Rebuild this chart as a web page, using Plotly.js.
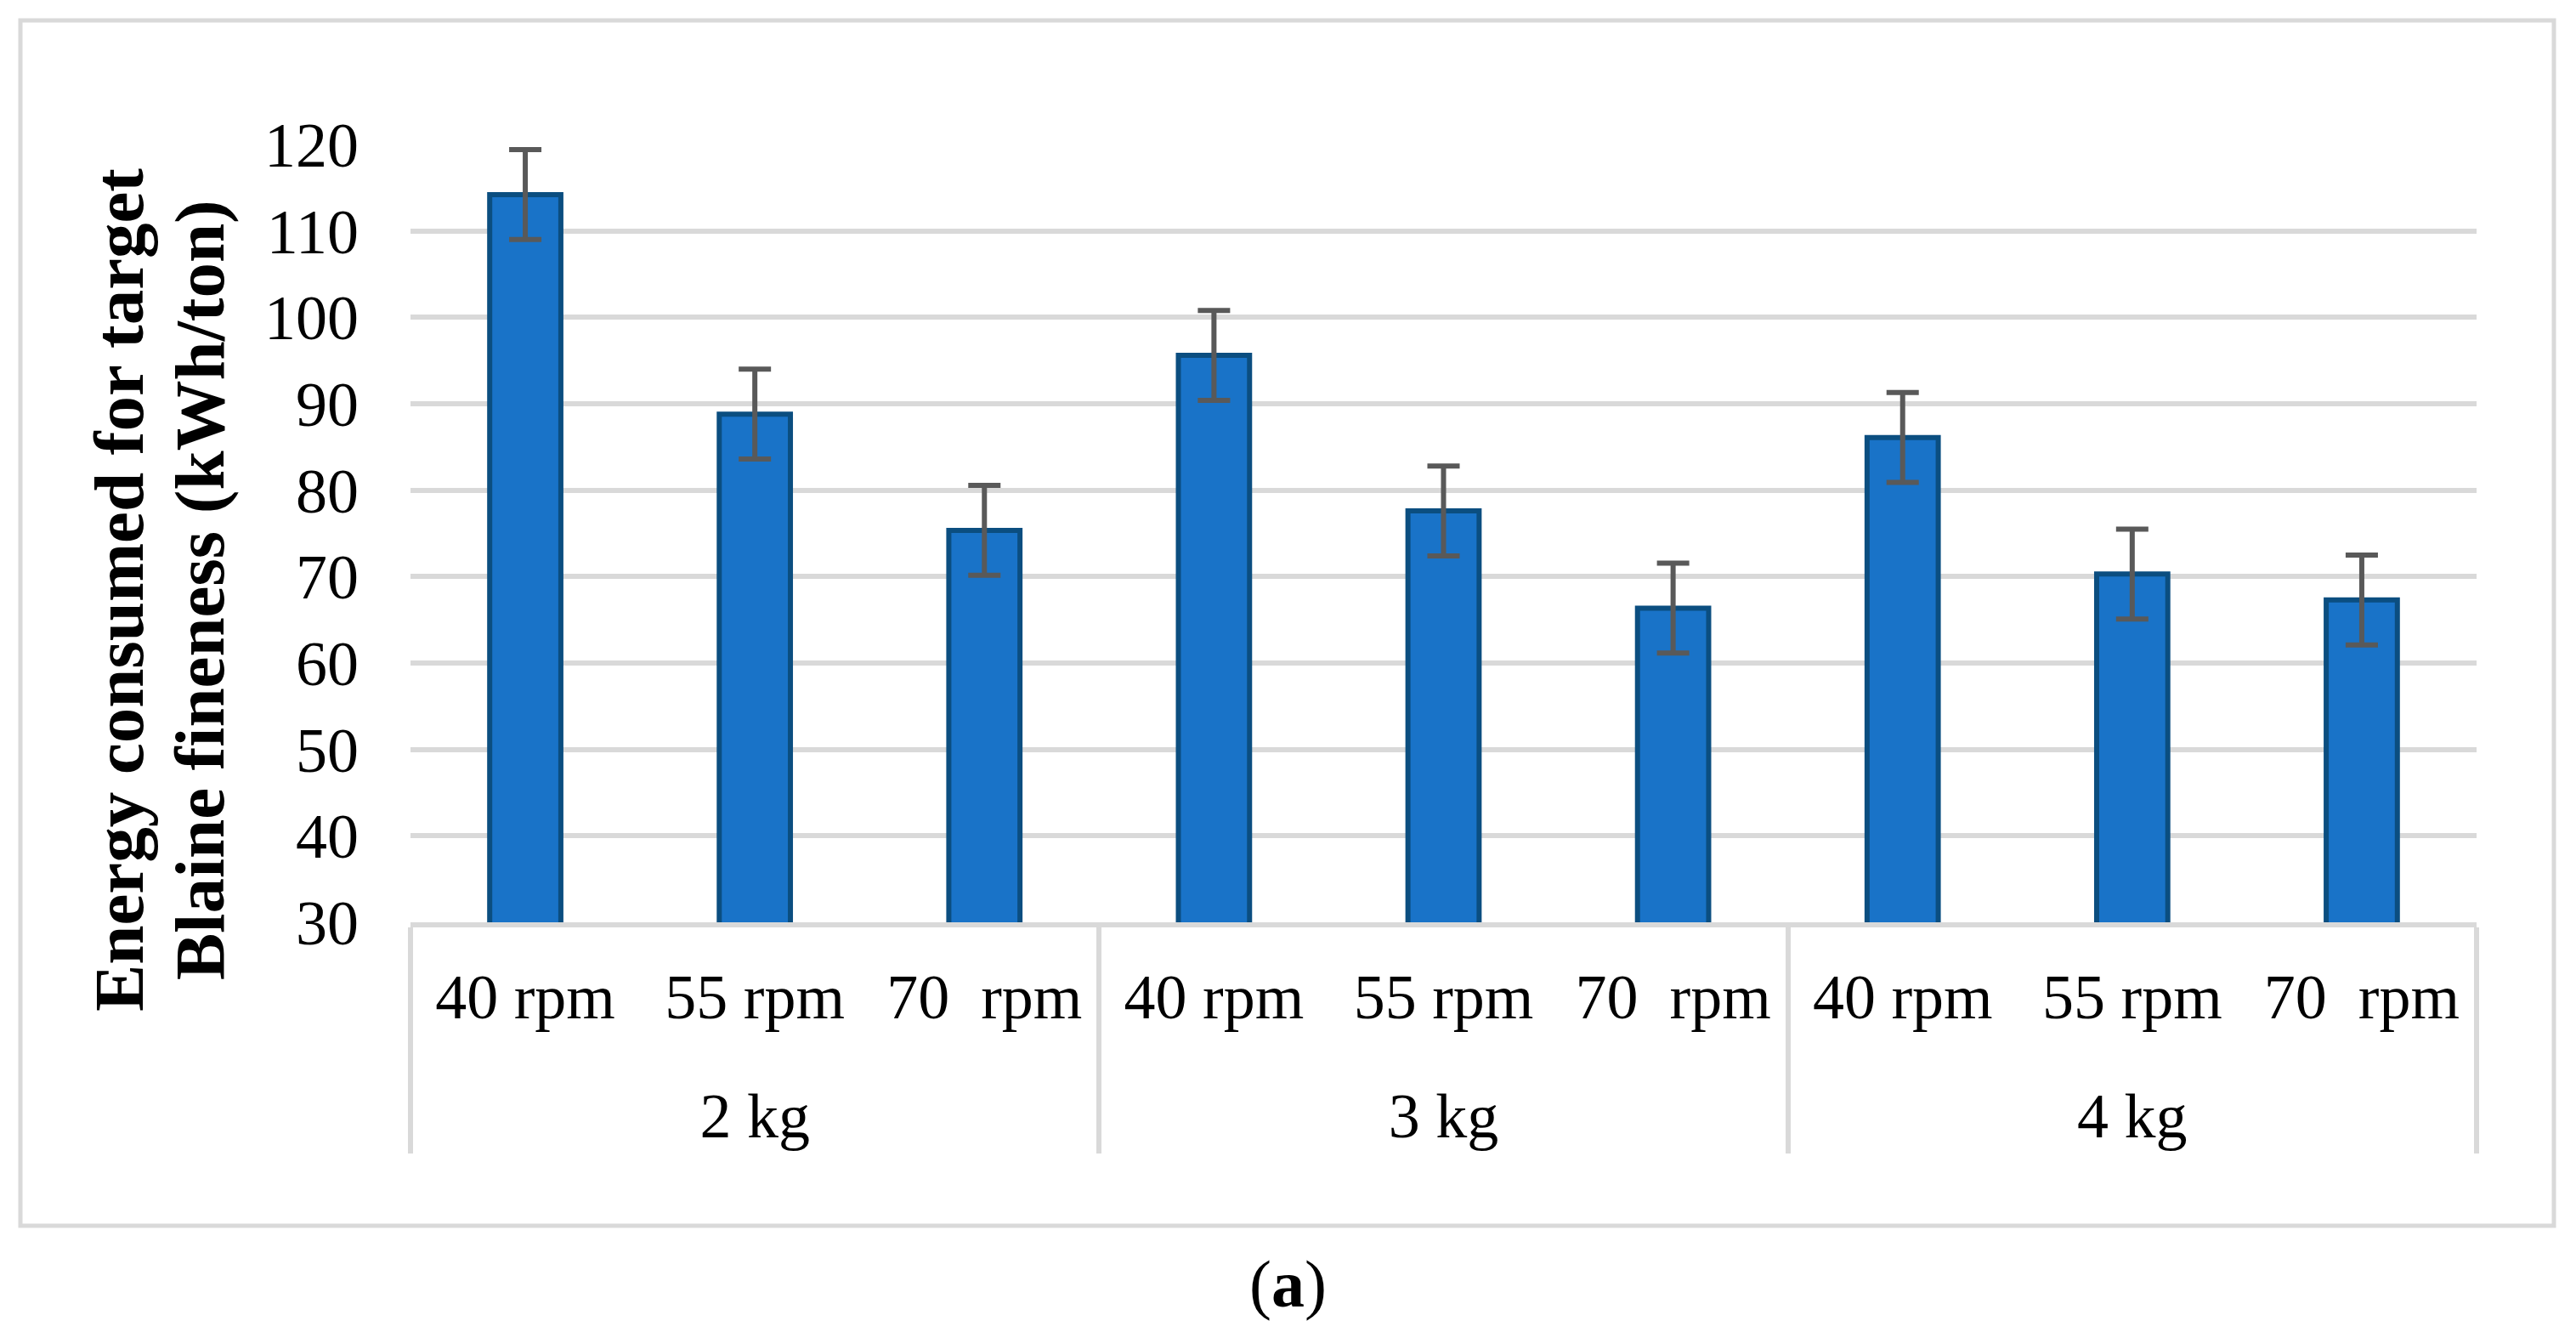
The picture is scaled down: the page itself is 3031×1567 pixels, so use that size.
<!DOCTYPE html>
<html>
<head>
<meta charset="utf-8">
<script src="https://cdn.plot.ly/plotly-3.0.1.min.js"></script>
<style>
  html, body { margin: 0; padding: 0; background: #ffffff; }
  #chart { width: 3031px; height: 1567px; }
</style>
</head>
<body>
<div id="chart"></div>
<script>
// ---- data ----
const ballLoads = ['2 kg', '2 kg', '2 kg', '3 kg', '3 kg', '3 kg', '4 kg', '4 kg', '4 kg'];
const speeds = ['40 rpm', '55 rpm', '70\u00a0\u00a0rpm', '40 rpm', '55 rpm', '70\u00a0\u00a0rpm', '40 rpm', '55 rpm', '70\u00a0\u00a0rpm'];
const energy = [114.2, 88.8, 75.35, 95.6, 77.6, 66.35, 86.1, 70.3, 67.3];
const energyErr = [5.2, 5.2, 5.2, 5.2, 5.2, 5.2, 5.2, 5.2, 5.2];
const yTicks = [30, 40, 50, 60, 70, 80, 90, 100, 110, 120];
const yTitleLines = ['Energy consumed for target', 'Blaine fineness (kWh/ton)'];
const caption = '(<b>a</b>)';

// ---- layout geometry (pixels) ----
const W = 3031, H = 1567;
const plotL = 483, plotR = 2914, plotT = 170, plotB = 1085;
const pw = plotR - plotL, ph = plotB - plotT;
const px = x => (x - plotL) / pw;
const py = y => (plotB - y) / ph;

const serif = 'Liberation Serif, Times New Roman, serif';
const labelSize = 74;      // visible size of category labels
const axisFontSize = 65;   // base size: sets the gap between label rows

const big = t => '<span style="font-size:' + labelSize + 'px">' + t + '</span>';
const speedLabels = speeds.map(big);
const groupLabels = ballLoads.map(g => '<br>' + big(g));

const trace = {
  type: 'bar',
  x: [groupLabels, speedLabels],
  y: energy,
  width: 0.31,
  marker: { color: '#1973c8', line: { color: '#0b4e80', width: 6 } },
  error_y: { type: 'data', array: energyErr, visible: true, color: '#595959', thickness: 6, width: 19 },
  hoverinfo: 'skip'
};

const layout = {
  width: W, height: H,
  margin: { l: plotL, r: W - plotR, t: plotT, b: H - plotB },
  paper_bgcolor: '#ffffff',
  plot_bgcolor: '#ffffff',
  showlegend: false,
  font: { family: serif, color: '#000000', size: 74 },
  xaxis: {
    type: 'multicategory',
    showline: true, linecolor: '#d9d9d9', linewidth: 6,
    showgrid: false, zeroline: false,
    showdividers: true, dividercolor: '#d9d9d9', dividerwidth: 6,
    ticks: '',
    tickfont: { family: serif, size: axisFontSize, color: '#000000' },
    ticklabelstandoff: 29
  },
  yaxis: {
    range: [30, 120],
    tickvals: yTicks,
    ticktext: yTicks.map(String),
    showgrid: true, gridcolor: '#d9d9d9', gridwidth: 6,
    zeroline: false, showline: false, ticks: '',
    tickfont: { family: serif, size: 74, color: '#000000' },
    ticklabelstandoff: 60
  },
  shapes: [
    { type: 'rect', xref: 'paper', yref: 'paper',
      x0: px(24), x1: px(3005), y0: py(1442), y1: py(24),
      line: { color: '#d9d9d9', width: 5 }, fillcolor: 'rgba(0,0,0,0)', layer: 'below' }
  ],
  annotations: [
    { xref: 'paper', yref: 'paper', x: px(140), y: py(694), xanchor: 'center', yanchor: 'middle',
      textangle: -90, showarrow: false,
      text: '<b>' + yTitleLines[0] + '</b>',
      font: { family: serif, size: 83, color: '#000000' } },
    { xref: 'paper', yref: 'paper', x: px(235), y: py(694), xanchor: 'center', yanchor: 'middle',
      textangle: -90, showarrow: false,
      text: '<b>' + yTitleLines[1] + '</b>',
      font: { family: serif, size: 83, color: '#000000' } },
    { xref: 'paper', yref: 'paper', x: px(1515), y: py(1510), xanchor: 'center', yanchor: 'middle',
      showarrow: false, text: caption,
      font: { family: serif, size: 78, color: '#000000' } }
  ]
};

Plotly.newPlot('chart', [trace], layout, { staticPlot: true, displayModeBar: false });
</script>
</body>
</html>
